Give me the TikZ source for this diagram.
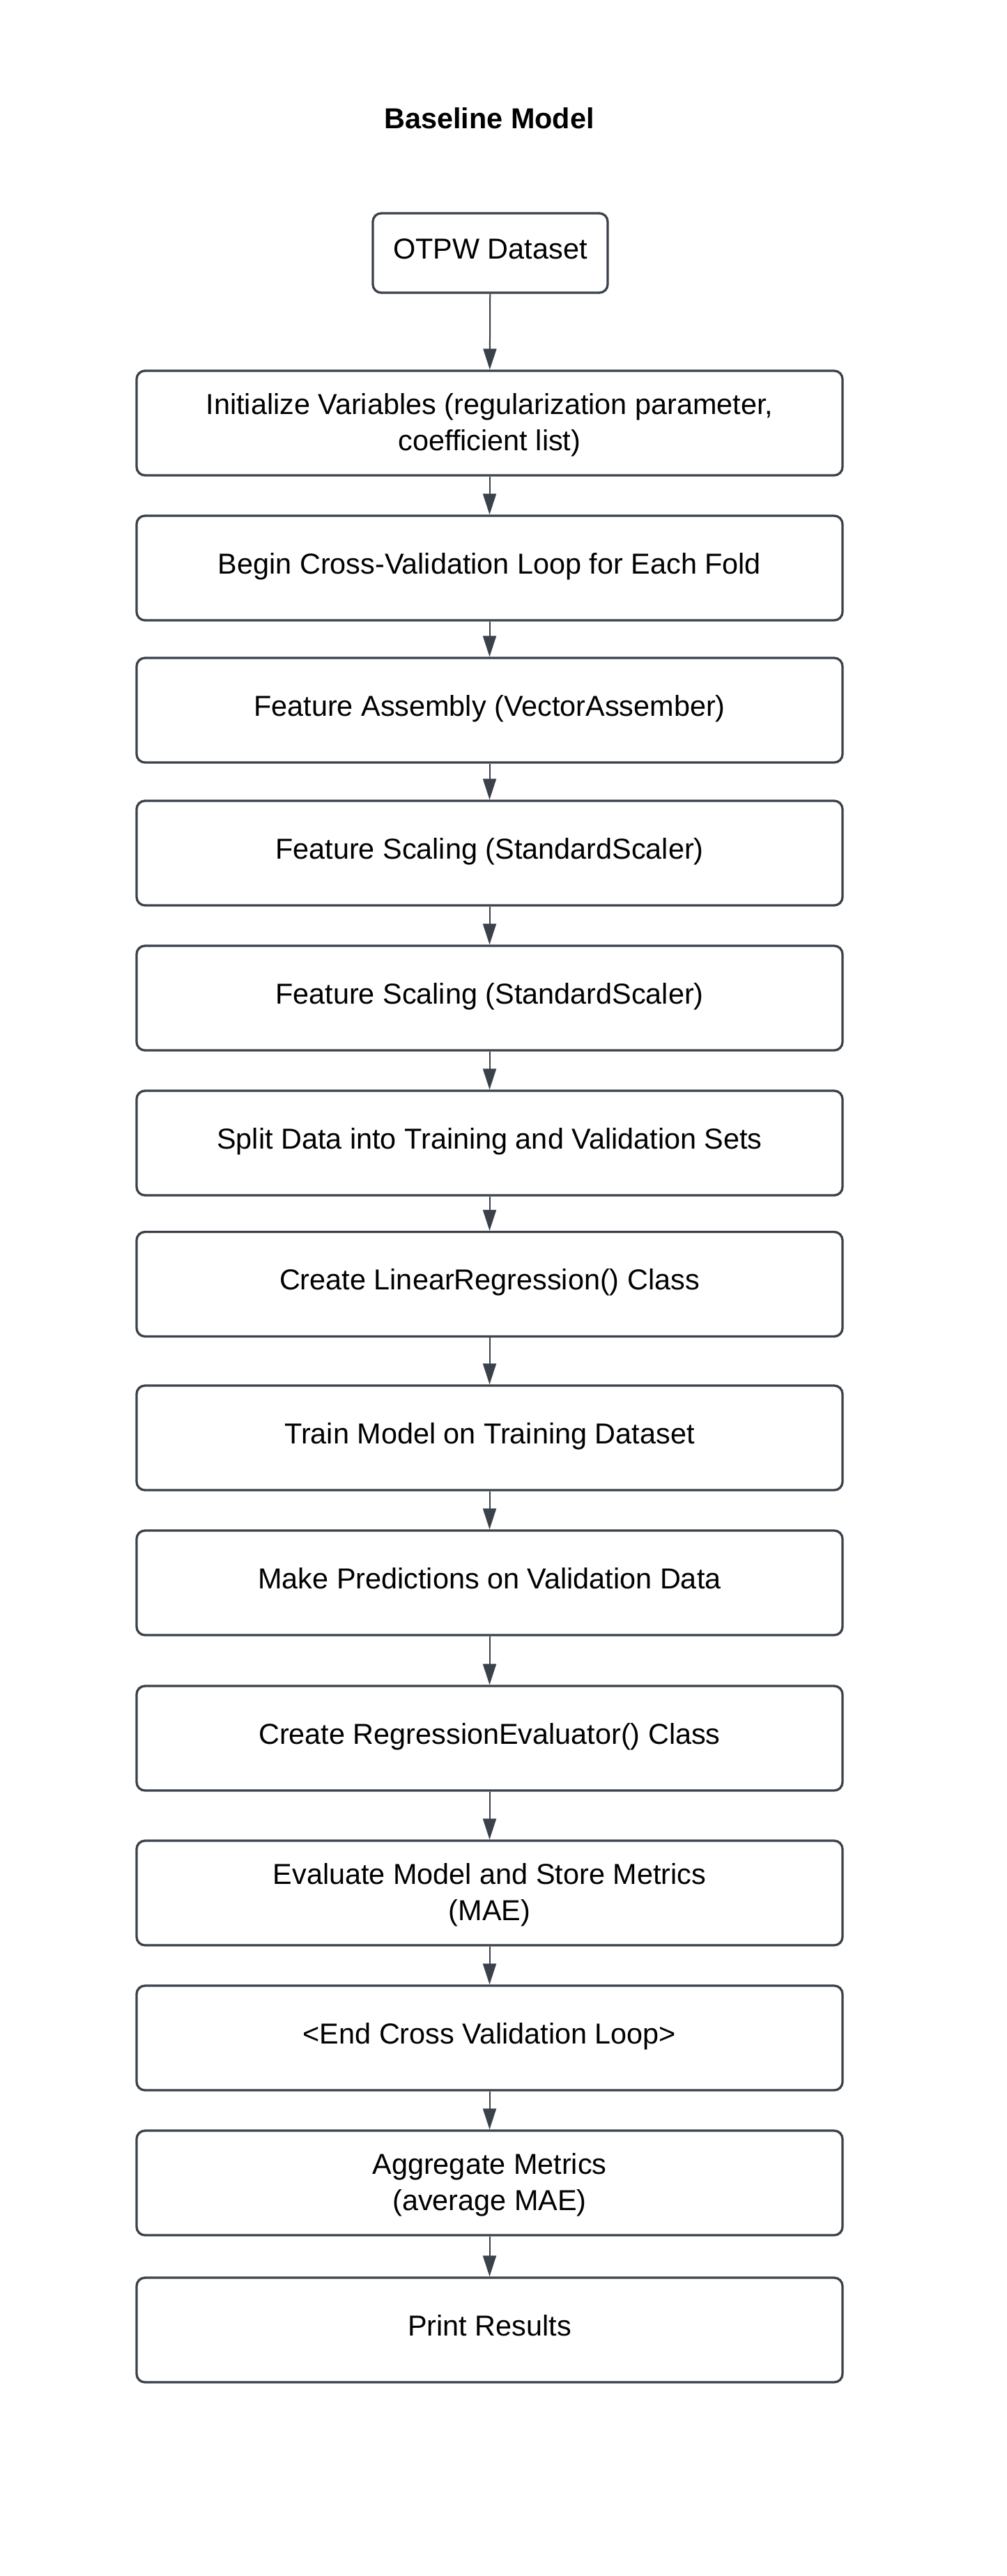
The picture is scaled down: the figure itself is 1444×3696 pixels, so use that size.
\documentclass[tikz,border=0pt]{standalone}
\usepackage{fontspec}
\setmainfont{Liberation Sans}
\usetikzlibrary{arrows.meta}
\definecolor{edgec}{HTML}{3A414A}
\tikzset{
  stepbox/.style={draw=edgec, line width=3.3pt, rounded corners=12pt, fill=white,
    minimum width=1013pt, minimum height=150pt, align=center, inner sep=0pt,
    text height=30pt, text depth=14pt,
    font=\fontsize{41.4}{52}\selectfont, text=black},
  twoline/.style={text height=92pt, text depth=14pt},
  conn/.style={draw=edgec, line width=2pt, -{Triangle[length=30pt,width=19pt]}}
}
\begin{document}
\begin{tikzpicture}[x=1pt,y=-1pt]
\useasboundingbox (0,0) rectangle (1444,3696);
\fill[white] (0,0) rectangle (1444,3696);
\node[font=\fontsize{41.4}{52}\selectfont\bfseries] (title) at (702,170) {Baseline Model};
\node[stepbox, minimum width=337pt, minimum height=114pt] (b0) at (703.5,363) {OTPW Dataset};
\node[stepbox, twoline] (b1) at (702.5,607) {Initialize Variables (regularization parameter,\\coefficient list)};
\node[stepbox] (b2) at (702.5,815) {Begin Cross-Validation Loop for Each Fold};
\node[stepbox] (b3) at (702.5,1019) {Feature Assembly (VectorAssember)};
\node[stepbox] (b4) at (702.5,1224) {Feature Scaling (StandardScaler)};
\node[stepbox] (b5) at (702.5,1432) {Feature Scaling (StandardScaler)};
\node[stepbox] (b6) at (702.5,1640) {Split Data into Training and Validation Sets};
\node[stepbox] (b7) at (702.5,1842.5) {Create LinearRegression() Class};
\node[stepbox] (b8) at (702.5,2063) {Train Model on Training Dataset};
\node[stepbox] (b9) at (702.5,2271) {Make Predictions on Validation Data};
\node[stepbox] (b10) at (702.5,2494) {Create RegressionEvaluator() Class};
\node[stepbox, twoline] (b11) at (702.5,2716) {Evaluate Model and Store Metrics\\(MAE)};
\node[stepbox] (b12) at (702.5,2924) {<End Cross Validation Loop>};
\node[stepbox, twoline] (b13) at (702.5,3132) {Aggregate Metrics\\(average MAE)};
\node[stepbox] (b14) at (702.5,3343) {Print Results};
\foreach \a/\b in {b0/b1,b1/b2,b2/b3,b3/b4,b4/b5,b5/b6,b6/b7,b7/b8,b8/b9,b9/b10,b10/b11,b11/b12,b12/b13,b13/b14}
  \draw[conn] (\a) -- (\b);
\end{tikzpicture}
\end{document}
